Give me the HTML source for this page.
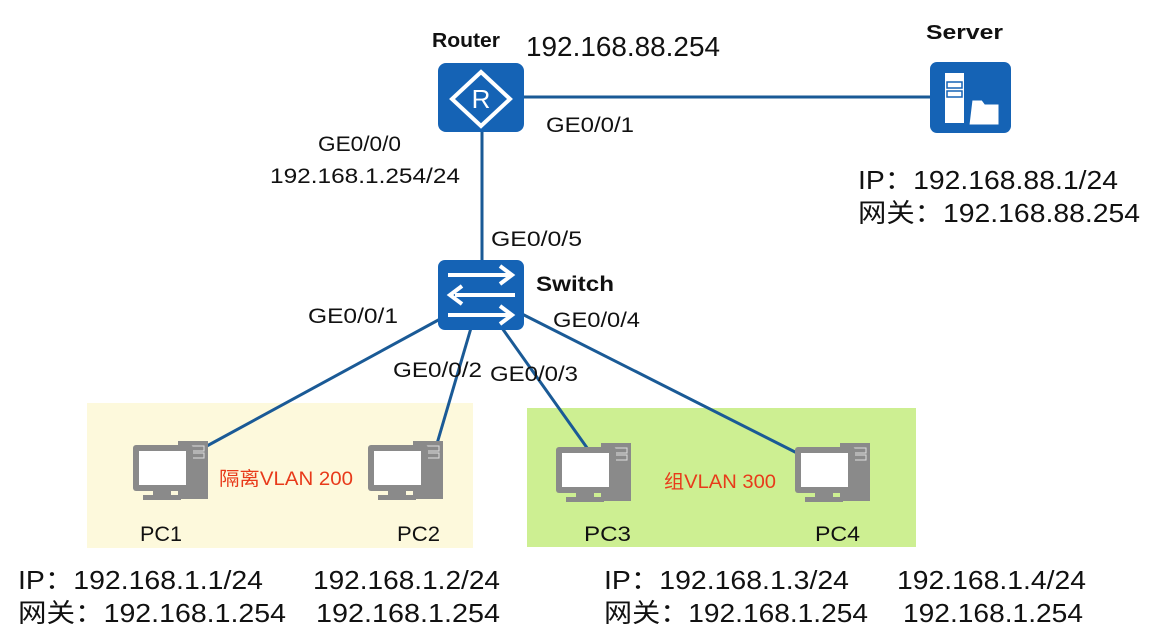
<!DOCTYPE html>
<html><head><meta charset="utf-8"><style>
body{margin:0;width:1156px;height:634px;background:#fff;overflow:hidden;font-family:"Liberation Sans","Noto Sans CJK SC",sans-serif;}
</style></head><body>
<svg width="1156" height="634" viewBox="0 0 1156 634" xmlns="http://www.w3.org/2000/svg" font-family="Liberation Sans, Noto Sans CJK SC, sans-serif">
<defs>
<g id="pc">
  <rect x="45" y="0" width="30" height="58" fill="#8a8a8a"/>
  <rect x="49" y="5" width="22" height="5" fill="none" stroke="#ddd" stroke-width="1"/>
  <rect x="49" y="12" width="22" height="5" fill="none" stroke="#ddd" stroke-width="1"/>
  <rect x="0" y="4" width="60" height="46" rx="3" fill="#8a8a8a"/>
  <rect x="6" y="10" width="47" height="34" fill="#fff"/>
  <rect x="20" y="50" width="18" height="5" fill="#8a8a8a"/>
  <rect x="10" y="54" width="38" height="5" fill="#8a8a8a"/>
</g>
</defs>
<rect x="87" y="403" width="386" height="145" fill="#fdf9dc"/>
<rect x="527" y="408" width="389" height="139" fill="#cdef92"/>
<g stroke="#1a5a96" stroke-width="3" fill="none">
<line x1="520" y1="97" x2="935" y2="97"/>
<line x1="482" y1="130" x2="482" y2="265"/>
<line x1="442" y1="318" x2="205" y2="447"/>
<line x1="471" y1="328" x2="436" y2="447"/>
<line x1="502" y1="328" x2="590" y2="452"/>
<line x1="522" y1="314" x2="797" y2="453"/>
</g>
<rect x="438" y="63" width="86" height="69" rx="8" fill="#1563b5"/>
<polygon points="481,72 510,99 481,126 452,99" fill="none" stroke="#fff" stroke-width="4"/>
<text x="481" y="108" font-size="26" fill="#fff" text-anchor="middle">R</text>
<rect x="438" y="260" width="86" height="70" rx="7" fill="#1563b5"/>
<g stroke="#fff" stroke-width="4" fill="none">
<line x1="448" y1="275" x2="510" y2="275"/><polyline points="500,266 512,275 500,284"/>
<line x1="455" y1="295" x2="515" y2="295"/><polyline points="462,286 450,295 462,304"/>
<line x1="448" y1="315" x2="510" y2="315"/><polyline points="500,306 512,315 500,324"/>
</g>
<rect x="930" y="62" width="81" height="71" rx="7" fill="#1563b5"/>
<rect x="945" y="73" width="19" height="50" fill="#fff"/>
<rect x="947" y="82" width="15" height="6" fill="none" stroke="#1563b5" stroke-width="1.5"/>
<rect x="947" y="91" width="15" height="6" fill="none" stroke="#1563b5" stroke-width="1.5"/>
<polygon points="972,100 982,100 985,104 999,104 999,125 969,125" fill="#fff" stroke="#1563b5" stroke-width="1"/>
<use href="#pc" x="133" y="441"/>
<use href="#pc" x="368" y="441"/>
<use href="#pc" x="556" y="443"/>
<use href="#pc" x="795" y="443"/>
<g font-size="21" fill="#111">
<text x="432" y="47" font-weight="bold" font-size="20" textLength="68" lengthAdjust="spacingAndGlyphs">Router</text>
<text x="526" y="56" font-size="28" textLength="194" lengthAdjust="spacingAndGlyphs">192.168.88.254</text>
<text x="926" y="39" font-weight="bold" font-size="20" textLength="77" lengthAdjust="spacingAndGlyphs">Server</text>
<text x="546" y="132" textLength="88" lengthAdjust="spacingAndGlyphs">GE0/0/1</text>
<text x="318" y="151" textLength="83" lengthAdjust="spacingAndGlyphs">GE0/0/0</text>
<text x="270" y="183" textLength="190" lengthAdjust="spacingAndGlyphs">192.168.1.254/24</text>
<text x="858" y="189" font-size="26" textLength="260" lengthAdjust="spacingAndGlyphs">IP：192.168.88.1/24</text>
<text x="858" y="222" font-size="26" textLength="282" lengthAdjust="spacingAndGlyphs">网关：192.168.88.254</text>
<text x="491" y="246" textLength="91" lengthAdjust="spacingAndGlyphs">GE0/0/5</text>
<text x="536" y="291" font-weight="bold" textLength="78" lengthAdjust="spacingAndGlyphs">Switch</text>
<text x="308" y="323" textLength="90" lengthAdjust="spacingAndGlyphs">GE0/0/1</text>
<text x="553" y="327" textLength="87" lengthAdjust="spacingAndGlyphs">GE0/0/4</text>
<text x="393" y="377" textLength="89" lengthAdjust="spacingAndGlyphs">GE0/0/2</text>
<text x="490" y="381" textLength="88" lengthAdjust="spacingAndGlyphs">GE0/0/3</text>
<text x="219" y="485" fill="#e83a1a" font-size="19" textLength="134" lengthAdjust="spacingAndGlyphs">隔离VLAN 200</text>
<text x="664" y="488" fill="#e83a1a" font-size="19" textLength="112" lengthAdjust="spacingAndGlyphs">组VLAN 300</text>
<text x="140" y="541" textLength="42" lengthAdjust="spacingAndGlyphs">PC1</text>
<text x="397" y="541" textLength="43" lengthAdjust="spacingAndGlyphs">PC2</text>
<text x="584" y="541" textLength="47" lengthAdjust="spacingAndGlyphs">PC3</text>
<text x="815" y="541" textLength="45" lengthAdjust="spacingAndGlyphs">PC4</text>
<text x="18" y="589" font-size="26" textLength="245" lengthAdjust="spacingAndGlyphs">IP：192.168.1.1/24</text>
<text x="18" y="622" font-size="26" textLength="268" lengthAdjust="spacingAndGlyphs">网关：192.168.1.254</text>
<text x="313" y="589" font-size="26" textLength="187" lengthAdjust="spacingAndGlyphs">192.168.1.2/24</text>
<text x="316" y="622" font-size="26" textLength="184" lengthAdjust="spacingAndGlyphs">192.168.1.254</text>
<text x="604" y="589" font-size="26" textLength="245" lengthAdjust="spacingAndGlyphs">IP：192.168.1.3/24</text>
<text x="604" y="622" font-size="26" textLength="264" lengthAdjust="spacingAndGlyphs">网关：192.168.1.254</text>
<text x="897" y="589" font-size="26" textLength="189" lengthAdjust="spacingAndGlyphs">192.168.1.4/24</text>
<text x="903" y="622" font-size="26" textLength="180" lengthAdjust="spacingAndGlyphs">192.168.1.254</text>
</g>
</svg>
</body></html>
